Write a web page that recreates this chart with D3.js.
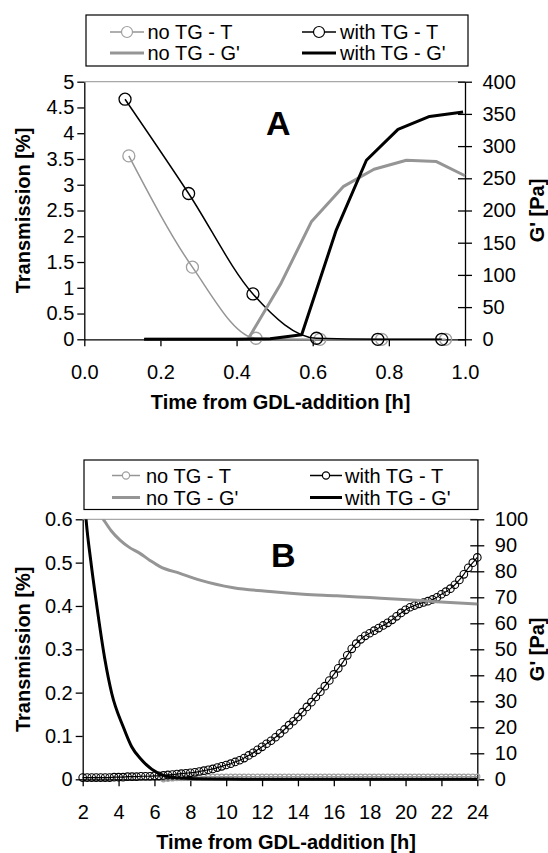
<!DOCTYPE html>
<html>
<head>
<meta charset="utf-8">
<script src="https://cdn.jsdelivr.net/npm/d3@7"></script>
<style>
  body { margin: 0; background: #fff; }
  svg { display: block; font-family: "Liberation Sans", Arial, sans-serif; }
</style>
</head>
<body>
<svg width="548" height="853"></svg>
<script>
// ---------- Panel A data (time in h) ----------
const timeA_noTG_T = [0.117, 0.284, 0.451, 0.619, 0.781, 0.949];
const transA_noTG = [3.56, 1.40, 0.02, 0, 0, 0];
const timeA_TG_T = [0.107, 0.274, 0.443, 0.610, 0.771, 0.939];
const transA_TG = [4.66, 2.83, 0.88, 0.02, 0, 0];
const timeA_noTG_G = [0.16, 0.26, 0.34, 0.43, 0.515, 0.597, 0.68, 0.761, 0.846, 0.925, 1.0];
const gA_noTG = [0, 0, 0, 0, 85, 183, 237, 264, 278, 276, 254];
const timeA_TG_G = [0.157, 0.24, 0.32, 0.405, 0.488, 0.571, 0.662, 0.741, 0.824, 0.907, 0.995];
const gA_TG = [0, 0, 0, 0, 1, 7, 170, 278, 326, 346, 353];

const xTicksA = [0, 0.2, 0.4, 0.6, 0.8, 1.0];
const yLeftTicksA = [0, 0.5, 1, 1.5, 2, 2.5, 3, 3.5, 4, 4.5, 5];
const yRightTicksA = [0, 50, 100, 150, 200, 250, 300, 350, 400];

// ---------- Panel B data (time in h) ----------
const timeB_TG_T = [2, 2.25, 2.5, 2.75, 3, 3.25, 3.5, 3.75, 4, 4.25, 4.5, 4.75, 5, 5.25, 5.5, 5.75,
  6, 6.25, 6.5, 6.75, 7, 7.25, 7.5, 7.75, 8, 8.25, 8.5, 8.75, 9, 9.25, 9.5, 9.75,
  10, 10.25, 10.5, 10.75, 11, 11.25, 11.5, 11.75, 12, 12.25, 12.5, 12.75, 13, 13.25, 13.5, 13.75,
  14, 14.25, 14.5, 14.75, 15, 15.25, 15.5, 15.75, 16, 16.25, 16.5, 16.75, 17, 17.25, 17.5, 17.75,
  18, 18.25, 18.5, 18.75, 19, 19.25, 19.5, 19.75, 20, 20.25, 20.5, 20.75, 21, 21.25, 21.5, 21.75,
  22, 22.25, 22.5, 22.75, 23, 23.25, 23.5, 23.75, 24];
const transB_TG = [0.004, 0.004, 0.004, 0.004, 0.004, 0.004, 0.004, 0.005, 0.005, 0.005, 0.006, 0.006, 0.006, 0.007, 0.007, 0.007,
  0.008, 0.008, 0.009, 0.010, 0.011, 0.012, 0.013, 0.014, 0.015, 0.016, 0.018, 0.020, 0.022, 0.024, 0.027, 0.030,
  0.033, 0.036, 0.040, 0.044, 0.049, 0.055, 0.061, 0.068, 0.075, 0.082, 0.089, 0.097, 0.106, 0.115, 0.125, 0.134,
  0.144, 0.155, 0.167, 0.178, 0.190, 0.202, 0.215, 0.228, 0.242, 0.256, 0.270, 0.286, 0.301, 0.313, 0.323, 0.331,
  0.337, 0.343, 0.349, 0.355, 0.361, 0.368, 0.376, 0.384, 0.391, 0.397, 0.401, 0.405, 0.408, 0.411, 0.415, 0.420,
  0.427, 0.433, 0.440, 0.449, 0.460, 0.473, 0.488, 0.500, 0.512];

const timeB_noTG_T = [6.5, 6.75, 7, 7.25, 7.5, 7.75, 8, 8.25, 8.5, 8.75, 9, 9.25, 9.5, 9.75,
  10, 10.25, 10.5, 10.75, 11, 11.25, 11.5, 11.75, 12, 12.25, 12.5, 12.75, 13, 13.25, 13.5, 13.75,
  14, 14.25, 14.5, 14.75, 15, 15.25, 15.5, 15.75, 16, 16.25, 16.5, 16.75, 17, 17.25, 17.5, 17.75,
  18, 18.25, 18.5, 18.75, 19, 19.25, 19.5, 19.75, 20, 20.25, 20.5, 20.75, 21, 21.25, 21.5, 21.75,
  22, 22.25, 22.5, 22.75, 23, 23.25, 23.5, 23.75, 24];
const transB_noTG = [0.000, 0.001, 0.002, 0.003, 0.003, 0.004, 0.004, 0.005, 0.005, 0.006, 0.006, 0.006, 0.006, 0.006,
  0.006, 0.006, 0.006, 0.006, 0.006, 0.006, 0.006, 0.006, 0.006, 0.006, 0.006, 0.006, 0.006, 0.006, 0.006, 0.006,
  0.006, 0.006, 0.006, 0.006, 0.006, 0.006, 0.006, 0.006, 0.006, 0.006, 0.006, 0.006, 0.006, 0.006, 0.006, 0.006,
  0.006, 0.006, 0.006, 0.006, 0.006, 0.006, 0.006, 0.006, 0.006, 0.006, 0.006, 0.006, 0.006, 0.006, 0.006, 0.006,
  0.006, 0.006, 0.006, 0.006, 0.006, 0.006, 0.006, 0.006, 0.006];

const timeB_noTG_G = [2.6, 3.15, 3.6, 4.08, 4.6, 5.19, 5.75, 6.31, 7.42, 8.54, 10.4, 12.44, 14.3, 16.16, 18.0, 19.87, 21.73, 24];
const gB_noTG = [106, 100, 95.5, 92, 89.2, 86.9, 84.2, 81.8, 79.2, 76.6, 73.7, 72.2, 71.2, 70.6, 69.9, 69.2, 68.3, 67.4];
const timeB_TG_G = [2.0, 2.2, 2.45, 2.74, 3.24, 3.62, 4.27, 4.73, 5.29, 6.22, 7.0, 8.0, 10, 12, 14, 16, 18, 20, 22, 24];
const gB_TG = [118, 99, 84, 69, 46, 33, 20, 12.5, 7.4, 2.3, 0.8, 0.3, 0.1, 0, 0, 0, 0, 0, 0, 0];

const xTicksB = [2, 4, 6, 8, 10, 12, 14, 16, 18, 20, 22, 24];
const yLeftTicksB = [0, 0.1, 0.2, 0.3, 0.4, 0.5, 0.6];
const yRightTicksB = [0, 10, 20, 30, 40, 50, 60, 70, 80, 90, 100];

const legendNames = ["no TG - T", "with TG - T", "no TG - G'", "with TG - G'"];

const grey = "#959595";
const svg = d3.select("svg");

function drawPanel(p) {
  const x = d3.scaleLinear().domain(p.xDomain).range([p.left, p.right]);
  const yL = d3.scaleLinear().domain(p.yLeftDomain).range([p.bottom, p.top]);
  const yR = d3.scaleLinear().domain(p.yRightDomain).range([p.bottom, p.top]);
  const g = svg.append("g");

  // clip so off-scale G' values stop at the top of the plot
  svg.append("clipPath").attr("id", "clip" + p.label)
    .append("rect")
    .attr("x", p.left - 3).attr("y", p.top)
    .attr("width", p.right - p.left + 6).attr("height", p.bottom - p.top + 6);

  // top border of the plot area
  g.append("line")
    .attr("x1", p.left).attr("x2", p.right)
    .attr("y1", p.top).attr("y2", p.top)
    .attr("stroke", "#a8a8a8").attr("stroke-width", 1.2);

  // axes
  const left = g.append("g")
    .attr("transform", `translate(${p.left},0)`)
    .call(d3.axisLeft(yL).tickValues(p.yLeftTicks).tickSize(7).tickPadding(3).tickSizeOuter(0).tickFormat((d) => String(d)));
  const right = g.append("g")
    .attr("transform", `translate(${p.right},0)`)
    .call(d3.axisRight(yR).tickValues(p.yRightTicks).tickSize(7).tickPadding(10.5).tickSizeOuter(0));
  right.selectAll(".tick line").attr("x1", -7);
  const bottom = g.append("g")
    .attr("transform", `translate(0,${p.bottom})`)
    .call(d3.axisBottom(x).tickValues(p.xTicks).tickSize(7).tickSizeOuter(0).tickFormat(p.xFormat));
  bottom.selectAll(".tick text").attr("y", 33).attr("dy", "0.35em");

  [left, right, bottom].forEach((a) => {
    a.selectAll("text").style("font-size", "20px").attr("fill", "#000")
      .style("font-family", "'Liberation Sans', Arial, sans-serif");
    a.selectAll("path, line").attr("stroke", "#000").attr("stroke-width", 1.3);
  });

  // series: T on the left axis, G' on the right axis
  const series = [
    { t: p.tNoT, v: p.vNoT, y: yL, color: grey, w: p.tLineW, r: p.rNo, curve: p.tCurve },
    { t: p.tTgT, v: p.vTgT, y: yL, color: "#000", w: p.tLineW, r: p.rTg, curve: p.tCurve },
    { t: p.tNoG, v: p.vNoG, y: yR, color: grey, w: 3, r: 0, curve: p.gCurve },
    { t: p.tTgG, v: p.vTgG, y: yR, color: "#000", w: 3, r: 0, curve: p.gCurve },
  ];
  series.forEach((s) => {
    const pts = s.t.map((t, i) => [t, s.v[i]]);
    const line = d3.line().x((d) => x(d[0])).y((d) => s.y(d[1])).curve(s.curve);
    g.append("path")
      .attr("d", line(pts))
      .attr("clip-path", `url(#clip${p.label})`)
      .attr("fill", "none")
      .attr("stroke", s.color)
      .attr("stroke-width", s.w)
      .attr("stroke-linejoin", "round");
    if (s.r > 0) {
      g.selectAll(null)
        .data(pts)
        .enter()
        .append("circle")
        .attr("cx", (d) => x(d[0]))
        .attr("cy", (d) => s.y(d[1]))
        .attr("r", s.r)
        .attr("fill", "none")
        .attr("stroke", s.color === grey ? "#a0a0a0" : "#000")
        .attr("stroke-width", p.circleW);
    }
  });

  // axis titles
  g.append("text")
    .attr("x", (p.left + p.right) / 2 + 6).attr("y", p.bottom + 63).attr("dy", "0.35em")
    .attr("text-anchor", "middle").style("font-size", "20px").style("font-weight", "bold")
    .text("Time from GDL-addition [h]");
  g.append("text")
    .attr("transform", `translate(23,${(p.top + p.bottom) / 2}) rotate(-90)`)
    .attr("dy", "0.35em").attr("text-anchor", "middle")
    .style("font-size", "20px").style("font-weight", "bold")
    .text("Transmission [%]");
  g.append("text")
    .attr("transform", `translate(537,${(p.top + p.bottom) / 2}) rotate(-90)`)
    .attr("dy", "0.35em").attr("text-anchor", "middle")
    .style("font-size", "20px").style("font-weight", "bold")
    .text("G' [Pa]");

  // panel letter
  g.append("text")
    .attr("x", p.letterX).attr("y", p.letterY)
    .style("font-size", "34px").style("font-weight", "bold")
    .text(p.label);

  // legend
  const lg = p.legend;
  g.append("rect")
    .attr("x", lg.x0).attr("y", lg.y0)
    .attr("width", lg.x1 - lg.x0).attr("height", lg.y1 - lg.y0)
    .attr("fill", "#fff").attr("stroke", "#000").attr("stroke-width", 1.2);
  legendNames.forEach((name, i) => {
    const col = i % 2, row = Math.floor(i / 2);
    const s = series[i];
    const ly = lg.rows[row];
    const [a, b, tx] = lg.cols[col];
    g.append("line")
      .attr("x1", a).attr("x2", b).attr("y1", ly).attr("y2", ly)
      .attr("stroke", s.color).attr("stroke-width", row === 0 ? 1.5 : 3);
    if (row === 0) {
      g.append("circle")
        .attr("cx", (a + b) / 2).attr("cy", ly).attr("r", lg.r)
        .attr("fill", "#fff")
        .attr("stroke", s.color === grey ? "#a0a0a0" : "#000").attr("stroke-width", 1.2);
    }
    g.append("text")
      .attr("x", tx).attr("y", ly).attr("dy", "0.35em")
      .style("font-size", "20px")
      .text(name);
  });
}

drawPanel({
  label: "A",
  left: 84.3, right: 465, top: 81.7, bottom: 339.3,
  xDomain: [0, 1], yLeftDomain: [0, 5], yRightDomain: [0, 400],
  xTicks: xTicksA, yLeftTicks: yLeftTicksA, yRightTicks: yRightTicksA,
  xFormat: d3.format(".1f"),
  tNoT: timeA_noTG_T, vNoT: transA_noTG, tTgT: timeA_TG_T, vTgT: transA_TG,
  tNoG: timeA_noTG_G, vNoG: gA_noTG, tTgG: timeA_TG_G, vTgG: gA_TG,
  tCurve: d3.curveMonotoneX, gCurve: d3.curveLinear,
  tLineW: 1.5, rNo: 6, rTg: 6, circleW: 1.3,
  letterX: 266, letterY: 135,
  legend: { x0: 86, x1: 468, y0: 15, y1: 66, rows: [32, 53], r: 5.5,
    cols: [[110, 144, 147.5], [302, 336, 340]] },
});

drawPanel({
  label: "B",
  left: 82.7, right: 477.3, top: 519.3, bottom: 779.3,
  xDomain: [2, 24], yLeftDomain: [0, 0.6], yRightDomain: [0, 100],
  xTicks: xTicksB, yLeftTicks: yLeftTicksB, yRightTicks: yRightTicksB,
  xFormat: d3.format("d"),
  tNoT: timeB_noTG_T, vNoT: transB_noTG, tTgT: timeB_TG_T, vTgT: transB_TG,
  tNoG: timeB_noTG_G, vNoG: gB_noTG, tTgG: timeB_TG_G, vTgG: gB_TG,
  tCurve: d3.curveMonotoneX, gCurve: d3.curveMonotoneX,
  tLineW: 1.2, rNo: 2.6, rTg: 3.8, circleW: 1.1,
  letterX: 271, letterY: 567,
  legend: { x0: 84, x1: 478, y0: 460, y1: 509.5, rows: [475.5, 497.5], r: 3.6,
    cols: [[112, 140, 146], [310, 342, 345]] },
});
</script>
</body>
</html>
